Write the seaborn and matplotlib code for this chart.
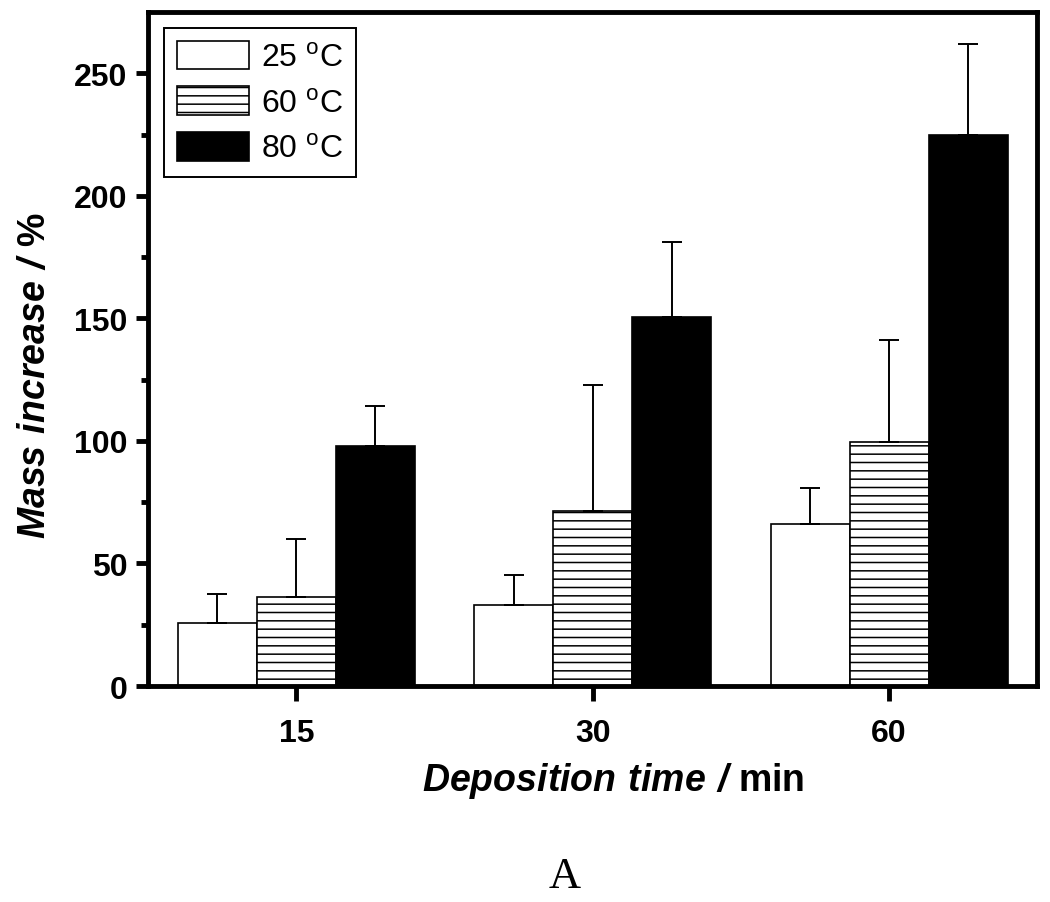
import pandas as pd
import numpy as np
import matplotlib
matplotlib.use("Agg")
import matplotlib.pyplot as plt
import seaborn as sns

# data
times = ["15", "30", "60"]
temps = ["25 $^\\mathregular{o}$C", "60 $^\\mathregular{o}$C", "80 $^\\mathregular{o}$C"]
mass_25 = [25.7, 33.0, 66.2]
mass_60 = [36.3, 71.2, 99.6]
mass_80 = [98.0, 150.7, 225.0]
err_25 = [11.9, 12.3, 14.7]
err_60 = [23.7, 51.8, 41.4]
err_80 = [16.4, 30.3, 37.0]

df = pd.DataFrame({
    "time": times * 3,
    "temp": [temps[0]] * 3 + [temps[1]] * 3 + [temps[2]] * 3,
    "mass": mass_25 + mass_60 + mass_80,
})
errs = [err_25, err_60, err_80]

sns.set_style("ticks")
plt.rcParams["font.family"] = ["Liberation Sans", "DejaVu Sans"]
plt.rcParams["mathtext.fontset"] = "custom"
plt.rcParams["mathtext.rm"] = "Liberation Sans"
plt.rcParams["mathtext.bfit"] = "Liberation Sans:italic:bold"
plt.rcParams["hatch.linewidth"] = 1.1
plt.rcParams["text.color"] = "black"
plt.rcParams["axes.labelcolor"] = "black"
plt.rcParams["xtick.color"] = "black"
plt.rcParams["ytick.color"] = "black"

fig = plt.figure(figsize=(10.5, 9.03), dpi=100)
ax = fig.add_axes([0.141, 0.2392, 0.847, 0.7464])

sns.barplot(data=df, x="time", y="mass", hue="temp", hue_order=temps,
            palette=["white", "white", "black"], edgecolor="black",
            linewidth=1.2, width=0.8, errorbar=None, ax=ax)

# hatch the 60 C bars
for p in ax.containers[1]:
    p.set_hatch("--")

# upper error bars only
for cont, e in zip(ax.containers, errs):
    xs = [p.get_x() + p.get_width() / 2 for p in cont]
    ys = [p.get_height() for p in cont]
    ax.errorbar(xs, ys, yerr=[np.zeros(len(e)), e], fmt="none", ecolor="black",
                elinewidth=1.4, capsize=7, capthick=1.4, zorder=1)

ax.set_xlim(-0.5, 2.5)
ax.set_ylim(0, 275)
ax.set_yticks([0, 50, 100, 150, 200, 250])
ax.set_yticks([25, 75, 125, 175, 225], minor=True)

for s in ax.spines.values():
    s.set_linewidth(3.5)
    s.set_color("black")
ax.tick_params(axis="y", which="major", direction="out", length=9, width=3.5,
               labelsize=23, pad=6)
ax.tick_params(axis="x", which="major", direction="out", length=11, width=3.5,
               labelsize=23, pad=12)
ax.tick_params(axis="y", which="minor", direction="out", length=5, width=3.5)
ax.tick_params(top=False, right=False)
for lab in ax.get_xticklabels() + ax.get_yticklabels():
    lab.set_fontweight("bold")

ax.set_xlabel(r"$\mathbfit{Deposition\ time\ /}$ min", fontsize=27,
              fontweight="bold", labelpad=9)
ax.set_ylabel(r"$\mathbfit{Mass\ increase\ /\ }$%", fontsize=27,
              fontweight="bold", labelpad=15)
ax.xaxis.label.set_x(0.523)
ax.yaxis.label.set_y(0.463)

leg = ax.legend(ax.containers, temps, loc="upper left", fontsize=23,
                frameon=True, fancybox=False, edgecolor="black",
                handlelength=2.25, handleheight=1.0, labelspacing=0.42,
                borderaxespad=0.5, handletextpad=0.4, borderpad=0.4)
leg.get_frame().set_linewidth(1.4)
leg.get_frame().set_alpha(1)

fig.text(0.538, 0.029, "A", fontsize=32, family="Liberation Serif",
         ha="center", va="center")

fig.savefig("out.png", dpi=100)
